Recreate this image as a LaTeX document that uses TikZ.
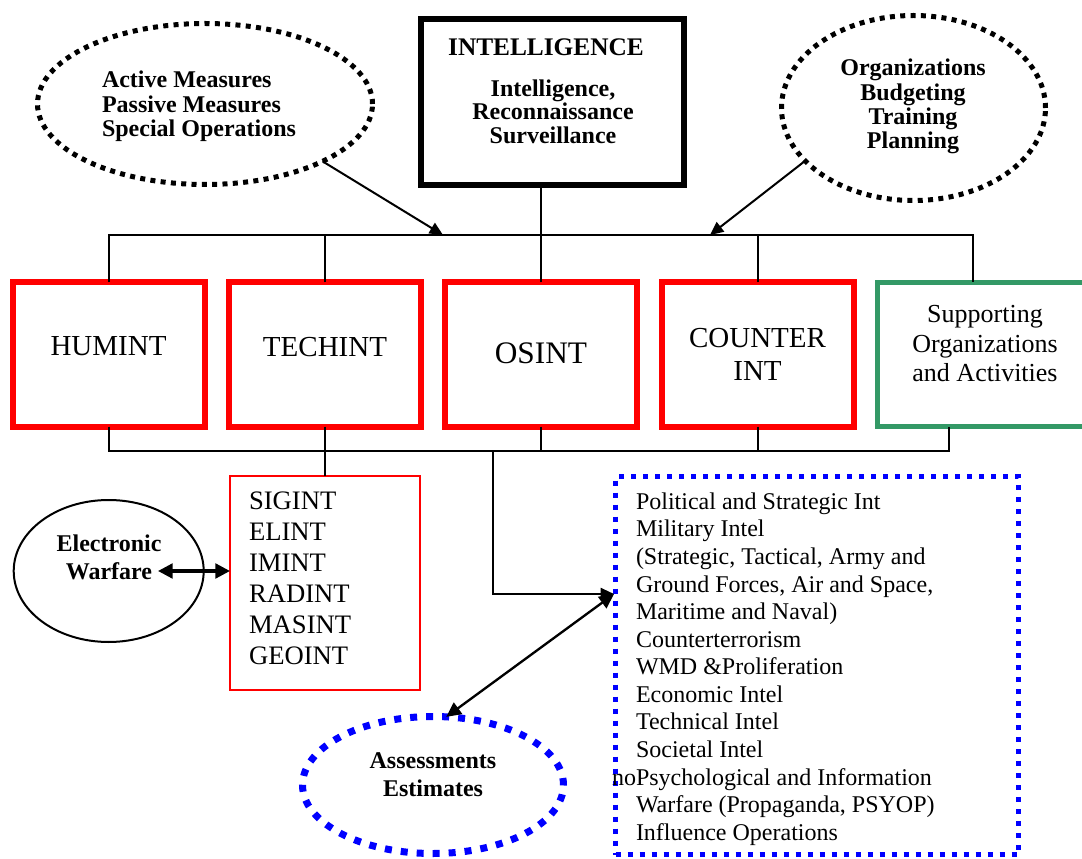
\documentclass[tikz,border=0pt]{standalone}
\usepackage{fontspec}
\setmainfont{Liberation Serif}
\usetikzlibrary{arrows.meta,shapes.geometric,calc}

\definecolor{intred}{RGB}{255,0,0}
\definecolor{intblue}{RGB}{0,0,255}
\definecolor{intgreen}{RGB}{51,153,102}

\begin{document}
\begin{tikzpicture}[x=0.75pt,y=-0.75pt,
  every node/.style={inner sep=0pt,outer sep=0pt},
  link/.style={line width=1.5pt},
  arr/.style={line width=1.5pt,-{Triangle[length=10pt,width=9pt]}},
  darr/.style={line width=1.75pt,{Triangle[length=11pt,width=10.5pt]}-{Triangle[length=11pt,width=10.5pt]}},
  boldnote/.style={font=\bfseries\fontsize{18}{18.3}\selectfont,align=center},
  blackoval/.style={ellipse,draw=black,line width=3.75pt,dash pattern=on 3.75pt off 4pt},
  blueoval/.style={ellipse,draw=intblue,line width=5.25pt,dash pattern=on 5.25pt off 6.75pt},
  plainoval/.style={ellipse,draw=black,line width=1.5pt},
  disc/.style={draw=intred,line width=4.5pt,minimum width=144pt,minimum height=108pt,
    font=\fontsize{21.75}{25.1}\selectfont,align=center},
  supbox/.style={draw=intgreen,line width=4.1pt,minimum width=161.25pt,minimum height=108pt},
  headbox/.style={draw=black,line width=4.5pt,minimum width=197.25pt,minimum height=124.5pt},
  techlist/.style={draw=intred,line width=1.5pt,minimum width=142.5pt,minimum height=160.5pt},
  arealist/.style={draw=intblue,line width=3.75pt,dash pattern=on 3.75pt off 5.25pt,
    minimum width=302.25pt,minimum height=283.5pt}
]
\useasboundingbox (0,0) rectangle (1082,859);
\fill[white] (0,0) rectangle (1082,859);

% heading box
\node[headbox] (intel) at (552.5,102) {};
\node[font=\bfseries\fontsize{19}{22}\selectfont] (inteltitle) at (546,47.7) {INTELLIGENCE};
\node[boldnote,font=\bfseries\fontsize{18}{17.75}\selectfont] (isr) at (553,111.5)
  {Intelligence,\\Reconnaissance\\Surveillance};

% side notes at the top
\node[blackoval,minimum width=251.25pt,minimum height=120.75pt] (act) at (205,104) {};
\node[boldnote,font=\bfseries\fontsize{18}{18.5}\selectfont,align=left,anchor=west] (acttext) at (102,106.4)
  {Active Measures\\Passive Measures\\Special Operations};
\node[blackoval,minimum width=198pt,minimum height=138.75pt] (org) at (913.5,108) {};
\node[boldnote,font=\bfseries\fontsize{18}{18.1}\selectfont] (orgtext) at (913,106.5)
  {Organizations\\Budgeting\\Training\\Planning};

% disciplines
\node[disc,text depth=12.75pt] (hum) at (108.5,354.5) {HUMINT};
\node[disc,text depth=11.25pt] (tec) at (325,354.5) {TECHINT};
\node[disc,font=\fontsize{23.5}{27}\selectfont,text depth=2.25pt] (osi) at (541,354.5) {OSINT};
\node[disc] (cou) at (757.5,354.5) {COUNTER\\INT};
\node[supbox] (sup) at (985,354.5) {};
\node[font=\fontsize{19.5}{21.9}\selectfont,align=center] (suptext) at (985,343.7)
  {Supporting\\Organizations\\and Activities};

% technical collection list
\node[techlist] (sig) at (325,583) {};
\node[font=\fontsize{20}{23.25}\selectfont,align=left,anchor=west] (sigtext) at (249,578.7)
  {SIGINT\\ELINT\\IMINT\\RADINT\\MASINT\\GEOINT};

% electronic warfare
\node[plainoval,minimum width=142.5pt,minimum height=106.5pt] (ew) at (108.7,571) {};
\node[boldnote,font=\bfseries\fontsize{18}{20.7}\selectfont] (ewtext) at (109,557.3)
  {Electronic\\Warfare};

% analysis areas
\node[arealist] (areas) at (817,665.5) {};
\node[font=\fontsize{18}{20.67}\selectfont,align=left,anchor=west] (areatext) at (636,669)
  {Political and Strategic Int\\
   Military Intel\\
   (Strategic, Tactical, Army and\\
   Ground Forces, Air and Space,\\
   Maritime and Naval)\\
   Counterterrorism\\
   WMD \&Proliferation\\
   Economic Intel\\
   Technical Intel\\
   Societal Intel\\
   \llap{no}Psychological and Information\\
   Warfare (Propaganda, PSYOP)\\
   Influence Operations};

% assessments
\node[blueoval,minimum width=195.75pt,minimum height=102.75pt] (assess) at (433,785) {};
\node[boldnote,font=\bfseries\fontsize{18}{21.3}\selectfont] (asstext) at (433,774.4)
  {Assessments\\Estimates};

% bus lines
\coordinate (topR) at (973,235);
\coordinate (botR) at (949,451);
\coordinate (tap) at (493,451);
\coordinate (entry) at (614,594);
\coordinate (actTip) at (443,235);
\coordinate (orgTip) at (710,235);
\coordinate (ewTip) at (158,571);

\draw[link] (hum.north) |- (topR) -- (sup.north -| topR);
\draw[link] (tec.north) -- (tec.north |- topR);
\draw[link] (osi.north) -- (osi.north |- intel.south);
\draw[link] (cou.north) -- (cou.north |- topR);

\draw[link] (hum.south) |- (botR) -- (sup.south -| botR);
\draw[link] (tec.south) -- (sig.north);
\draw[link] (osi.south) -- (osi.south |- botR);
\draw[link] (cou.south) -- (cou.south |- botR);

% arrows
\draw[arr] (act.-26) -- (actTip);
\draw[arr] (org.206) -- (orgTip);
\draw[arr] (tap) |- (entry);
\draw[darr] (assess.79) -- (entry);
\draw[darr,line width=2.4pt,{Triangle[length=11pt,width=11pt]}-{Triangle[length=11pt,width=11pt]}]
  (ewTip) -- (sig.west |- ewTip);
\end{tikzpicture}
\end{document}
